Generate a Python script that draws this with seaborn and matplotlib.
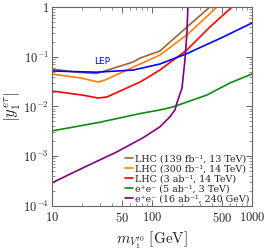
import numpy as np
import pandas as pd
import matplotlib
matplotlib.use('Agg')
import matplotlib.pyplot as plt
import matplotlib.ticker as mticker
import seaborn as sns

#%% Data
lhc139_m = [10, 17, 28, 45, 65, 76, 120, 224, 380]
lhc139_y = [0.0567, 0.0493, 0.046, 0.0622, 0.0785, 0.094, 0.13, 0.396, 1.0]

lhc300_m = [10, 20, 29, 34, 76, 120, 229, 447]
lhc300_y = [0.045, 0.037, 0.031, 0.034, 0.0714, 0.108, 0.286, 1.0]

lhc3ab_m = [10, 20, 29, 35.5, 76, 89, 120, 224, 380, 631]
lhc3ab_y = [0.0205, 0.017, 0.0148, 0.0155, 0.031, 0.0373, 0.054, 0.137, 0.396, 1.0]

lep_m = [10, 28, 65, 120, 219, 490, 1000]
lep_y = [0.0517, 0.049, 0.054, 0.0714, 0.1136, 0.238, 0.477]

ee3_m = [10, 30, 76, 120, 162, 355, 603, 1000]
ee3_y = [0.00322, 0.0048, 0.0072, 0.0085, 0.00977, 0.017, 0.0297, 0.045]

ee240_m = [10, 20.4, 44.7, 81, 120, 151, 170, 178, 200, 214, 224, 229]
ee240_y = [2.9e-4, 5.8e-4, 1.22e-3, 2.33e-3, 3.87e-3, 6.15e-3, 8.5e-3, 0.0118,
           0.0235, 0.086, 0.3, 1.0]

labels = ['LHC (139 fb⁻¹, 13 TeV)',
          'LHC (300 fb⁻¹, 14 TeV)',
          'LHC (3 ab⁻¹, 14 TeV)',
          'e⁺e⁻ (5 ab⁻¹, 3 TeV)',
          'e⁺e⁻ (16 ab⁻¹, 240 GeV)']

xticks = [10, 50, 100, 500, 1000]
xticklabels = ['10', '50', '100', '500', '1000']

#%% Long table for seaborn
frames = []
for lab, m, y in zip(labels + ['LEP'],
                     [lhc139_m, lhc300_m, lhc3ab_m, ee3_m, ee240_m, lep_m],
                     [lhc139_y, lhc300_y, lhc3ab_y, ee3_y, ee240_y, lep_y]):
    frames.append(pd.DataFrame({'m': m, 'y': y, 'curve': lab}))
df = pd.concat(frames, ignore_index=True)

palette = {labels[0]: '#996633', labels[1]: '#ff8000', labels[2]: '#ff0000',
           labels[3]: '#108a10', labels[4]: '#800080', 'LEP': '#0000ff'}

#%% Plot
sns.set_style('ticks')
plt.rcParams['mathtext.fontset'] = 'cm'
plt.rcParams['font.family'] = ['DejaVu Serif']

fig = plt.figure(figsize=(2.66, 2.52), dpi=100)
ax = fig.add_axes([0.195, 0.183, 0.752, 0.789])

sns.lineplot(data=df, x='m', y='y', hue='curve', palette=palette,
             hue_order=labels + ['LEP'], sort=False, estimator=None,
             lw=1.2, ax=ax, legend=False)

ax.set_xscale('log')
ax.set_yscale('log')
ax.set_xlim(10, 1000)
ax.set_ylim(1e-4, 1)

ax.set_xticks(xticks)
ax.set_xticklabels([r'$%s$' % t for t in xticklabels], fontsize=9)
ax.xaxis.set_minor_locator(mticker.LogLocator(base=10, subs=np.arange(2, 10)))
ax.xaxis.set_minor_formatter(mticker.NullFormatter())
ax.set_yticks([1e-4, 1e-3, 1e-2, 1e-1, 1])
ax.set_yticklabels([r'$10^{-4}$', r'$10^{-3}$', r'$10^{-2}$', r'$10^{-1}$', r'$1$'], fontsize=9)
ax.yaxis.set_minor_locator(mticker.LogLocator(base=10, subs=np.arange(2, 10)))
ax.yaxis.set_minor_formatter(mticker.NullFormatter())

ax.tick_params(which='both', direction='in', top=True, right=True, color='#666666')
ax.tick_params(which='major', length=4, width=0.7, pad=2)
ax.tick_params(axis='x', which='major', pad=4)
ax.tick_params(which='minor', length=2, width=0.5)
for sp in ax.spines.values():
    sp.set_color('#666666')
    sp.set_linewidth(0.8)

ax.set_xlabel(r"$m_{V_1^{\prime 0}}\ [\mathrm{GeV}]$", fontsize=11, labelpad=3)
ax.set_ylabel(r"$\left|y_1^{e\tau}\right|$", fontsize=12, labelpad=0)

ax.text(32, 0.079, 'LEP', color='#0000ff', fontsize=6.5,
        family='DejaVu Sans', ha='center', va='center')

handles = [plt.Line2D([], [], color=palette[l], lw=1.2) for l in labels]
ax.legend(handles, labels, loc='lower right', frameon=False, fontsize=6.8,
          handlelength=0.8, handletextpad=0.2, labelspacing=0.1,
          borderaxespad=0.2, borderpad=0.1)

fig.savefig('out.png', dpi=100)
